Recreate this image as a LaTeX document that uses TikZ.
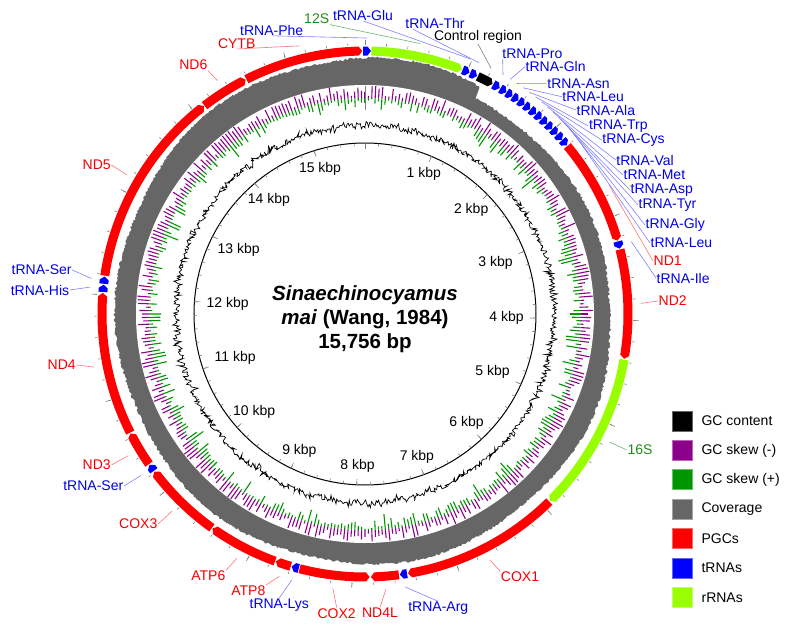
\documentclass[tikz,border=0pt]{standalone}
\usepackage{fontspec}
\setmainfont{Liberation Sans}
\usepackage{tikz}
\usetikzlibrary{calc,positioning}

\definecolor{pgcred}{RGB}{255,0,0}
\definecolor{trnablue}{RGB}{0,0,255}
\definecolor{rrnagreen}{RGB}{153,255,0}
\definecolor{skewneg}{RGB}{140,0,140}
\definecolor{skewpos}{RGB}{0,150,0}
\definecolor{covgray}{RGB}{102,102,102}
\definecolor{txtred}{RGB}{245,0,0}
\definecolor{txtblue}{RGB}{0,0,235}
\definecolor{txtgreen}{RGB}{30,140,30}

% feature on the map ring: name, start, end (tip), colour
\newcommand{\genearc}[4]{%
  \pgfmathsetmacro\ga{90-#2}%
  \pgfmathsetmacro\gb{90-#3}%
  \pgfmathsetmacro\gc{\gb+((#3>#2)?0.75:-0.75)}%
  \fill[#4] (\ga:258.5) arc[start angle=\ga, end angle=\gc, radius=258.5] -- (\gb:263) -- (\gc:267.5) arc[start angle=\gc, end angle=\ga, radius=267.5] -- cycle;
  \coordinate (#1) at ({90-(#2+#3)/2}:276);
}

\begin{document}
\begin{tikzpicture}[x=1pt, y=1pt, font=\fontsize{14}{16}\selectfont, node distance=0mm,
  redlab/.style={text=txtred, inner sep=0.5pt},
  bluelab/.style={text=txtblue, inner sep=0.5pt},
  greenlab/.style={text=txtgreen, inner sep=0.5pt},
  redpin/.style={draw=pgcred!55!white, line width=0.6pt},
  bluepin/.style={draw=trnablue!50!white, line width=0.6pt},
  greenpin/.style={draw=txtgreen!65!white, line width=0.6pt},
  graypin/.style={draw=gray, line width=0.6pt},
  tickmark/.style={draw=gray, line width=0.6pt},
  keybox/.style={minimum size=20pt, inner sep=0pt, fill=#1, draw=#1!60!white, line width=0.8pt}]
\useasboundingbox (-365,-315) rectangle (435,314);
\pgfmathsetseed{1984}

\fill[covgray] plot[domain=0:360, samples=900]
  ({90-\x}:{251+3*cos(\x)+2*cos(2*\x)+1.5*sin(7*\x)-(\x>27)*max(0,12-0.15*(\x-27))+2.4*rnd-1.2}) -- cycle;
\fill[white] (0,0) circle (229);

\foreach \t in {0,0.9,...,359.5} {
  \pgfmathsetmacro\lp{2+11*rnd}
  \pgfmathsetmacro\lg{1+16*rnd*rnd}
  \draw[skewneg, line width=1.1pt] ({90-\t}:216) -- ({90-\t}:{216+\lp});
  \draw[skewpos, line width=1.1pt] ({90-\t}:216) -- ({90-\t}:{216-\lg});
}
\draw[tickmark] (90:204) -- (90:228);

\draw[line width=0.7pt] plot[domain=0:360, samples=1000]
  ({90-\x}:{189+6*rnd-3+7*(2*rnd-1)*(2*rnd-1)*(2*rnd-1)}) -- cycle;

\draw[line width=1pt] (0,0) circle (171);
\foreach \t in {0,200,...,15600} {
  \draw[tickmark] ({90-\t*0.0228484}:268.5) -- ({90-\t*0.0228484}:271);
  \draw[tickmark] ({90-\t*0.0228484}:171) -- ({90-\t*0.0228484}:168);
}
\foreach \k in {0,...,15} {
  \draw[tickmark] ({90-\k*22.8484}:268.5) -- ({90-\k*22.8484}:274);
  \draw[tickmark] ({90-\k*22.8484}:171) -- ({90-\k*22.8484}:165);
}
\foreach \k [evaluate=\k as \ang using 90-\k*22.8484] in {1,...,15}
  \node (kb\k) [anchor=\ang, inner sep=2pt] at (\ang:161) {\k\ kbp};

\foreach \n/\a/\b/\c in {cytbF/333.2/359.4/pgcred, pheF/359.6/361.3/trnablue, s12F/1.4/21.6/rrnagreen,
  gluF/21.8/23.4/trnablue, thrF/23.6/25.2/trnablue, ctrlF/25.4/29.0/black, proF/29.2/30.8/trnablue,
  glnF/31.0/32.5/trnablue, asnF/32.6/34.1/trnablue, leuAF/34.2/35.7/trnablue, alaF/35.8/37.3/trnablue,
  trpF/37.4/38.9/trnablue, cysF/39.0/40.5/trnablue, valF/40.6/42.1/trnablue, metF/42.2/43.7/trnablue,
  aspF/43.8/45.3/trnablue, tyrF/45.4/46.9/trnablue, glyF/47.0/48.5/trnablue, leuBF/48.6/50.1/trnablue,
  ndOneF/50.3/73.8/pgcred, ileF/74.0/75.6/trnablue, ndTwoF/75.8/99.8/pgcred, s16F/100.0/135.3/rrnagreen,
  coxOneF/135.5/170.6/pgcred, argF/170.8/172.4/trnablue, ndFourLF/172.6/178.7/pgcred, coxTwoF/194.4/179.0/pgcred,
  lysF/194.6/196.2/trnablue, atpEightF/196.4/199.8/pgcred, atpSixF/200.0/215.4/pgcred, coxThreeF/215.6/233.2/pgcred,
  serAF/233.4/235.0/trnablue, ndThreeF/235.2/243.0/pgcred, ndFourF/243.2/274.6/pgcred, hisF/274.8/276.4/trnablue,
  serBF/276.6/278.2/trnablue, ndFiveF/278.4/322.2/pgcred, ndSixF/322.4/333.0/pgcred}
  \genearc{\n}{\a}{\b}{\c};

\node (title) [align=center, font=\fontsize{20.5}{24}\selectfont\bfseries] at (0,-5)
  {\textit{Sinaechinocyamus}\\\textit{mai} (Wang, 1984)\\15,756 bp};

\node (s12) [greenlab] at (-48.3,295) {12S};
\node (glu) [bluelab] at (-2,299) {tRNA-Glu};
\node (thr) [bluelab] at (70,290.7) {tRNA-Thr};
\node (ctrl) [inner sep=0.5pt] at (113,277.3) {Control region};
\node (pro) [bluelab, anchor=west] at (136.7,260.7) {tRNA-Pro};
\node (phe) [bluelab] at (-93.3,284) {tRNA-Phe};
\node (cytb) [redlab] at (-128.3,270.7) {CYTB};
\node (ndSix) [redlab] at (-171.7,249) {ND6};
\node (ndFive) [redlab] at (-268.3,149) {ND5};
\node (serB) [bluelab] at (-323.3,44) {tRNA-Ser};
\node (his) [bluelab] at (-325,24) {tRNA-His};
\node (ndFour) [redlab] at (-303.3,-51) {ND4};
\node (ndThree) [redlab] at (-268.3,-151) {ND3};
\node (serA) [bluelab] at (-271.7,-172) {tRNA-Ser};
\node (coxThree) [redlab] at (-226.7,-210) {COX3};
\node (atpSix) [redlab] at (-156.7,-262) {ATP6};
\node (atpEight) [redlab] at (-116.7,-276.7) {ATP8};
\node (lys) [bluelab] at (-85.7,-291) {tRNA-Lys};
\node (coxTwo) [redlab] at (-28.3,-299.3) {COX2};
\node (ndFourL) [redlab] at (15,-299) {ND4L};
\node (arg) [bluelab] at (73.3,-294.3) {tRNA-Arg};
\node (coxOne) [redlab] at (155,-263) {COX1};
\node (s16) [greenlab] at (275,-136) {16S};
\node (ndOne) [redlab, anchor=west] at (288,53) {ND1};
\node (ndTwo) [redlab, anchor=west] at (293,13) {ND2};

\draw[greenpin] (s12.south east) -- (s12F);
\draw[bluepin] (glu.south) -- (gluF);
\draw[bluepin] ([xshift=8pt]thr.south west) -- (thrF);
\draw[graypin] (ctrl.south) -- (ctrlF);
\draw[bluepin] ([xshift=1pt]pro.south west) -- (proF);
\draw[bluepin] (phe.south) -- (pheF);
\draw[redpin] (cytb.south) -- (cytbF);
\draw[redpin] (ndSix.south east) -- (ndSixF);
\draw[redpin] (ndFive.east) -- (ndFiveF);
\draw[bluepin] (serB.east) -- (serBF);
\draw[bluepin] (his.east) -- (hisF);
\draw[redpin] (ndFour.east) -- (ndFourF);
\draw[redpin] (ndThree.east) -- (ndThreeF);
\draw[bluepin] (serA.east) -- (serAF);
\draw[redpin] (coxThree.east) -- (coxThreeF);
\draw[redpin] (atpSix.north east) -- (atpSixF);
\draw[redpin] (atpEight.north east) -- (atpEightF);
\draw[bluepin] (lys.north) -- (lysF);
\draw[redpin] (coxTwo.north) -- (coxTwoF);
\draw[redpin] (ndFourL.north) -- (ndFourLF);
\draw[bluepin] (arg.north) -- (argF);
\draw[redpin] (coxOne.north west) -- (coxOneF);
\draw[greenpin] (s16.west) -- (s16F);
\draw[redpin] (ndOne.west) -- (ndOneF);
\draw[redpin] (ndTwo.west) -- (ndTwoF);

\foreach \n/\x/\y/\aa in {gln/160/247.3/Gln, asn/181.7/230.7/Asn, leuA/196.7/217.3/Leu, ala/211/204/Ala,
  trp/223.3/188/Trp, cys/236.7/174/Cys, val/250.7/154/Val, met/258/139/Met, asp/265/124/Asp,
  tyr/273/109/Tyr, gly/280/89/Gly, leuB/285/71/Leu, ile/291/36/Ile} {
  \node (\n) [bluelab, anchor=west] at (\x,\y) {tRNA-\aa};
  \draw[bluepin] (\n.west) -- (\n F);
}

\foreach \c/\txt [count=\i] in {black/GC content, skewneg/GC skew (-), skewpos/GC skew (+),
  covgray/Coverage, pgcred/PGCs, trnablue/tRNAs, rrnagreen/rRNAs} {
  \node (key\i) [keybox=\c] at (317,{-107-(\i-1)*29.4}) {};
  \node (keytxt\i) [right=9pt of key\i, inner sep=0pt] {\txt};
}
\end{tikzpicture}
\end{document}
